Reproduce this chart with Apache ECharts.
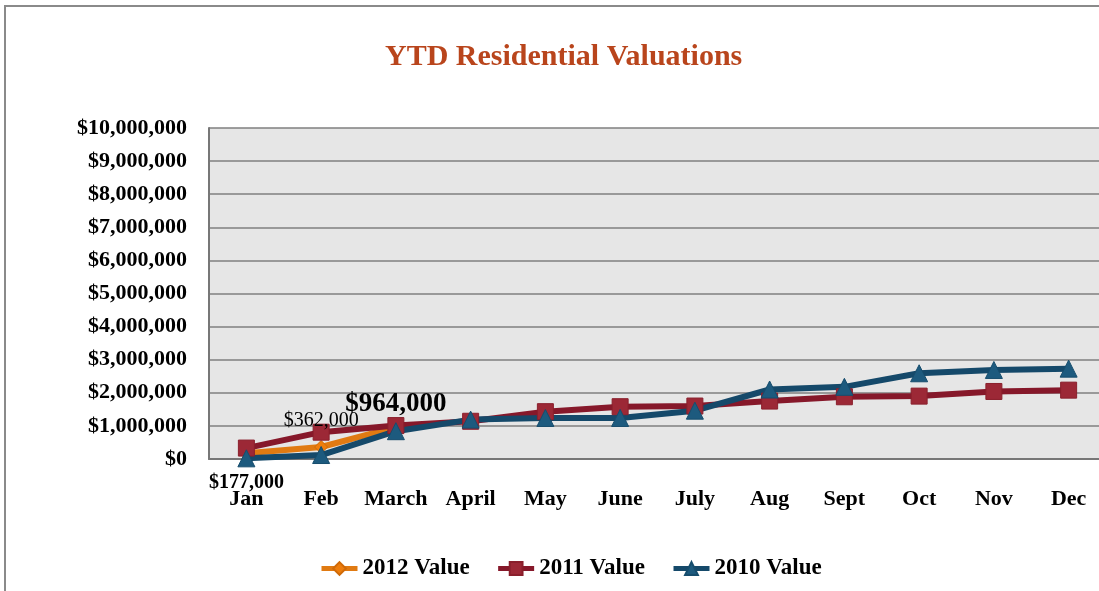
<!DOCTYPE html>
<html lang="en">
<head>
    <meta charset="UTF-8">
    <title>YTD Residential Valuations</title>
    <script src="https://cdn.jsdelivr.net/npm/echarts@6/dist/echarts.min.js"></script>
    <style>
        html, body { margin: 0; padding: 0; background: #fff; }
        #box { width: 1099px; height: 591px; }
    </style>
</head>
<body>
<div id="box"></div>
<script>
    // data
    var months = ['Jan', 'Feb', 'March', 'April', 'May', 'June', 'July', 'Aug', 'Sept', 'Oct', 'Nov', 'Dec'];
    var value2012 = [177000, 362000, 964000];
    var value2011 = [330000, 810000, 1010000, 1140000, 1430000, 1580000, 1600000, 1750000, 1880000, 1900000, 2040000, 2080000];
    var value2010 = [20000, 120000, 840000, 1190000, 1240000, 1240000, 1460000, 2100000, 2180000, 2590000, 2690000, 2730000];
    var seriesNames = ['2012 Value', '2011 Value', '2010 Value'];

    var serif = '"Liberation Serif", "DejaVu Serif", serif';

    function money(v) {
        return '$' + String(v).replace(/\B(?=(\d{3})+(?!\d))/g, ',');
    }

    // label look for the three 2012 points
    var labelStyles = [
        {position: 'bottom', distance: 13, fontSize: 20, fontWeight: 'bold'},
        {position: 'top', distance: 9, fontSize: 20, fontWeight: 'normal'},
        {position: 'top', distance: 3, fontSize: 27, fontWeight: 'bold'}
    ];

    var data2012 = [];
    for (var i = 0; i < value2012.length; i++) {
        var ls = labelStyles[i];
        data2012.push({
            value: value2012[i],
            label: {
                show: true,
                position: ls.position,
                distance: ls.distance,
                fontSize: ls.fontSize,
                fontWeight: ls.fontWeight,
                fontFamily: serif,
                color: '#000',
                formatter: function (p) { return money(p.value); }
            }
        });
    }

    var myChart = echarts.init(document.getElementById('box'));
    var option = {
        animation: false,
        backgroundColor: '#fff',
        graphic: [{
            type: 'rect',
            shape: {x: 5, y: 6, width: 1200, height: 700},
            style: {fill: 'none', stroke: '#8a8a8a', lineWidth: 2},
            silent: true
        }],
        title: {
            text: 'YTD Residential Valuations',
            left: 385,
            top: 42,
            padding: 0,
            textStyle: {
                fontFamily: serif,
                fontSize: 30,
                fontWeight: 'bold',
                color: '#b9451c'
            }
        },
        legend: {
            data: seriesNames,
            left: 314,
            top: 552,
            itemWidth: 36,
            itemHeight: 16,
            itemGap: 26,
            lineStyle: {width: 5},
            textStyle: {
                fontFamily: serif,
                fontSize: 23,
                fontWeight: 'bold',
                color: '#000'
            }
        },
        grid: {
            left: 209,
            width: 897,
            top: 128,
            bottom: 132,
            show: true,
            backgroundColor: '#e6e6e6',
            borderWidth: 0,
            containLabel: false,
            outerBoundsMode: 'none'
        },
        xAxis: {
            type: 'category',
            data: months,
            boundaryGap: true,
            axisLine: {lineStyle: {color: '#777', width: 2}},
            axisTick: {show: false},
            axisLabel: {
                margin: 29,
                interval: 0,
                fontFamily: serif,
                fontSize: 22,
                fontWeight: 'bold',
                color: '#000'
            }
        },
        yAxis: {
            type: 'value',
            min: 0,
            max: 10000000,
            interval: 1000000,
            axisLine: {show: true, lineStyle: {color: '#777', width: 2}},
            axisTick: {show: false},
            splitLine: {lineStyle: {color: '#7f7f7f', width: 1.5}},
            axisLabel: {
                margin: 22,
                fontFamily: serif,
                fontSize: 22,
                fontWeight: 'bold',
                color: '#000',
                formatter: money
            }
        },
        series: [
            {
                name: seriesNames[0],
                type: 'line',
                data: data2012,
                symbol: 'diamond',
                symbolSize: 13,
                lineStyle: {color: '#e07a12', width: 6},
                itemStyle: {color: '#ee7d0c', borderColor: '#d06a08', borderWidth: 1}
            },
            {
                name: seriesNames[1],
                type: 'line',
                data: value2011,
                symbol: 'rect',
                symbolSize: 16,
                lineStyle: {color: '#86182a', width: 6},
                itemStyle: {color: '#9c2836', borderColor: '#8a1f2c', borderWidth: 1}
            },
            {
                name: seriesNames[2],
                type: 'line',
                data: value2010,
                symbol: 'triangle',
                symbolSize: 17,
                lineStyle: {color: '#15496a', width: 6},
                itemStyle: {color: '#1d5a7e', borderColor: '#164d6d', borderWidth: 1}
            }
        ]
    };
    myChart.setOption(option);
</script>
</body>
</html>
